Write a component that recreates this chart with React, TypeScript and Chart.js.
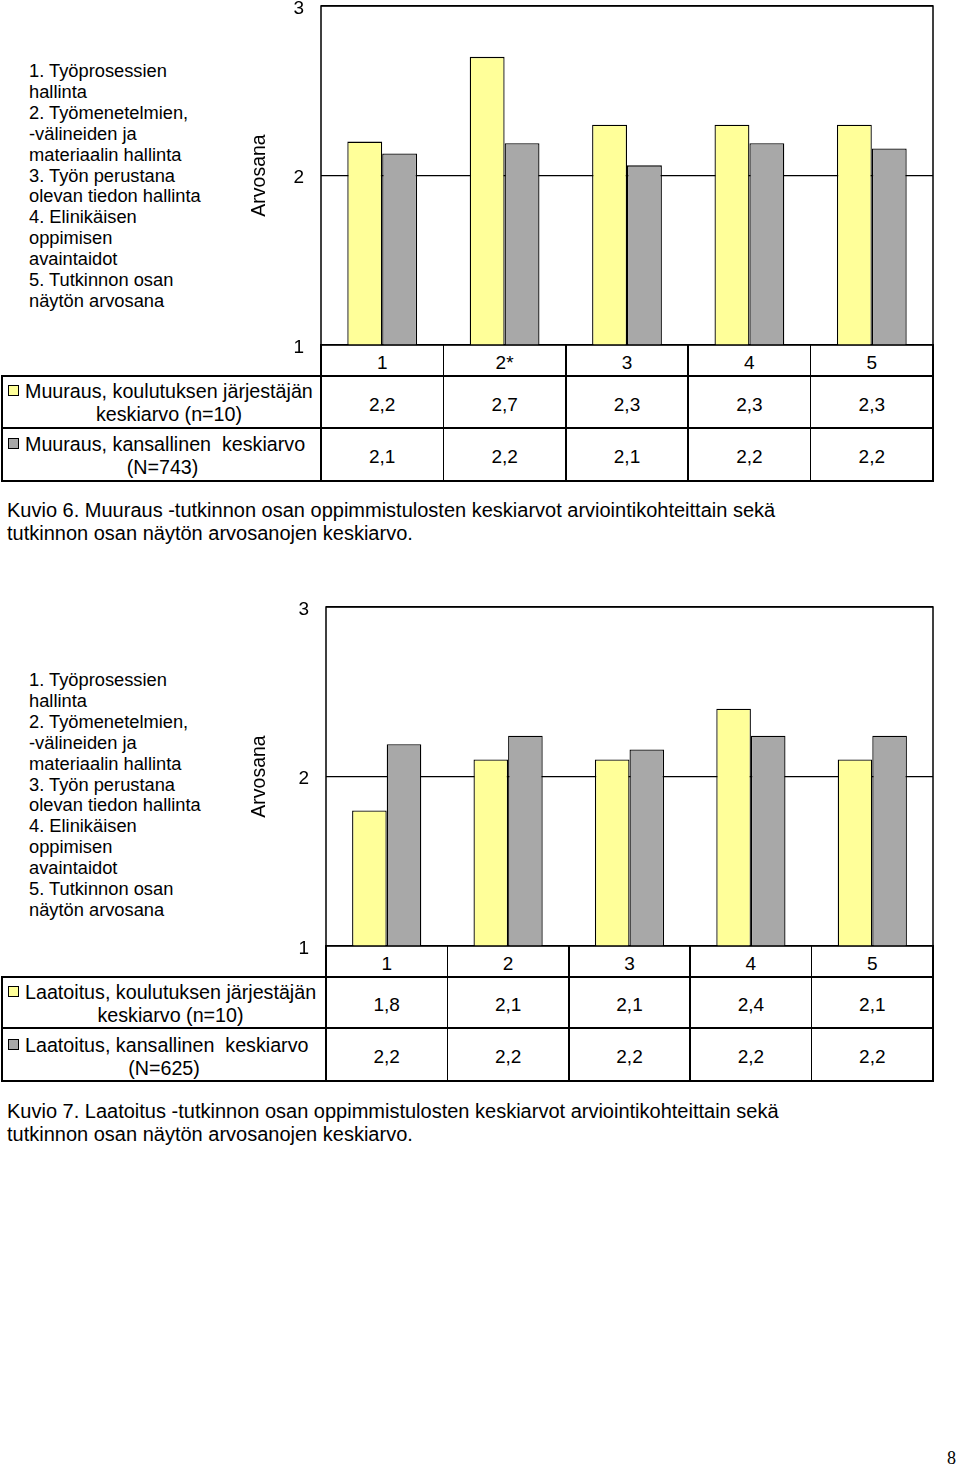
import React, { useEffect, useRef } from "react";
import { Chart, registerables } from "chart.js";

Chart.register(...registerables);

const FONT = '"Liberation Sans", Arial, Helvetica, sans-serif';
const YELLOW = "#FFFF99";
const GRAY = "#A8A8A8";

// ---- data ----
const criteriaLines = [
  "1. Työprosessien",
  "hallinta",
  "2. Työmenetelmien,",
  "-välineiden ja",
  "materiaalin hallinta",
  "3. Työn perustana",
  "olevan tiedon hallinta",
  "4. Elinikäisen",
  "oppimisen",
  "avaintaidot",
  "5. Tutkinnon osan",
  "näytön arvosana",
];
const yTickValues = [1, 2, 3];
const axisTitle = "Arvosana";

const categoriesMuuraus = ["1", "2*", "3", "4", "5"];
const providerMuuraus = [2.2, 2.7, 2.3, 2.3, 2.3];
const nationalMuuraus = [2.13, 2.19, 2.06, 2.19, 2.16];
const seriesMuuraus = [
  ["Muuraus, koulutuksen järjestäjän", "keskiarvo (n=10)"],
  ["Muuraus, kansallinen  keskiarvo", "(N=743)"],
];
const captionMuuraus = [
  "Kuvio 6. Muuraus -tutkinnon osan oppimmistulosten keskiarvot arviointikohteittain sekä",
  "tutkinnon osan näytön arvosanojen keskiarvo.",
];

const categoriesLaatoitus = ["1", "2", "3", "4", "5"];
const providerLaatoitus = [1.8, 2.1, 2.1, 2.4, 2.1];
const nationalLaatoitus = [2.19, 2.24, 2.16, 2.24, 2.24];
const seriesLaatoitus = [
  ["Laatoitus, koulutuksen järjestäjän", "keskiarvo (n=10)"],
  ["Laatoitus, kansallinen  keskiarvo", "(N=625)"],
];
const captionLaatoitus = [
  "Kuvio 7. Laatoitus -tutkinnon osan oppimmistulosten keskiarvot arviointikohteittain sekä",
  "tutkinnon osan näytön arvosanojen keskiarvo.",
];

const pageNumber = "8";

// ---- layout ----
type Layout = {
  plotLeft: number;
  plotRight: number;
  plotTop: number;
  plotBottom: number;
  headerBottom: number;
  row2Bottom: number;
  row3Bottom: number;
  listFirstCenter: number;
  legendRows: { l1: number; l2: number; cx: number }[];
  captionFirstCenter: number;
};

const layout1: Layout = {
  plotLeft: 321,
  plotRight: 933,
  plotTop: 6,
  plotBottom: 345,
  headerBottom: 376,
  row2Bottom: 428,
  row3Bottom: 481,
  listFirstCenter: 71.7,
  legendRows: [
    { l1: 391, l2: 414, cx: 169 },
    { l1: 444, l2: 467, cx: 162.5 },
  ],
  captionFirstCenter: 510,
};

const layout2: Layout = {
  plotLeft: 326,
  plotRight: 933,
  plotTop: 607,
  plotBottom: 946,
  headerBottom: 977,
  row2Bottom: 1028,
  row3Bottom: 1081,
  listFirstCenter: 680.7,
  legendRows: [
    { l1: 992, l2: 1015, cx: 170.5 },
    { l1: 1045, l2: 1068, cx: 164 },
  ],
  captionFirstCenter: 1111,
};

const fmt = (v: number) => v.toFixed(1).replace(".", ",");

const framePlugin = {
  id: "frame",
  afterDatasetsDraw(chart: any) {
    const { ctx, chartArea } = chart;
    ctx.save();
    ctx.strokeStyle = "#000";
    ctx.lineWidth = 1.5;
    ctx.strokeRect(
      chartArea.left,
      chartArea.top,
      chartArea.right - chartArea.left,
      chartArea.bottom - chartArea.top
    );
    ctx.restore();
  },
};

// must exceed the y-scale's own label padding (half label height + tick padding)
const PAD = 36;
const CANVAS_LEFT = 248;

function BarCanvas({
  lay,
  categories,
  provider,
  national,
  names,
}: {
  lay: Layout;
  categories: string[];
  provider: number[];
  national: number[];
  names: string[];
}) {
  const ref = useRef<HTMLCanvasElement>(null);
  const width = Math.round(lay.plotRight + 8 - CANVAS_LEFT);
  const height = Math.round(lay.plotBottom - lay.plotTop + 2 * PAD);

  useEffect(() => {
    if (!ref.current) return;
    const chart = new Chart(ref.current, {
      type: "bar",
      data: {
        labels: categories,
        datasets: [
          {
            label: names[0],
            data: provider,
            backgroundColor: YELLOW,
            borderColor: "#000",
            borderWidth: 1.3,
          },
          {
            label: names[1],
            data: national,
            backgroundColor: GRAY,
            borderColor: "#000",
            borderWidth: 1.3,
          },
        ],
      },
      options: {
        animation: false,
        responsive: false,
        maintainAspectRatio: false,
        layout: { padding: { left: 0, right: 8, top: PAD, bottom: PAD } },
        plugins: {
          legend: { display: false },
          tooltip: { enabled: false },
        },
        datasets: {
          bar: { categoryPercentage: 0.57, barPercentage: 1 },
        },
        scales: {
          x: { type: "category", display: false, offset: true },
          y: {
            min: 1,
            max: 3,
            afterBuildTicks: (scale: any) => {
              scale.ticks = yTickValues.map((v) => ({ value: v }));
            },
            afterFit: (scale: any) => {
              scale.width = lay.plotLeft - CANVAS_LEFT;
            },
            ticks: {
              padding: 17,
              labelOffset: 2.5,
              color: "#000",
              font: { family: FONT, size: 19 },
              callback: (v: any) => String(v),
            },
            grid: { color: "#000", lineWidth: 1.2, drawTicks: false },
            border: { display: false },
            title: {
              display: true,
              text: axisTitle,
              color: "#000",
              padding: 0,
              font: { family: FONT, size: 19.5, lineHeight: 1.2 },
            },
          },
        },
      } as any,
      plugins: [framePlugin],
    });
    return () => chart.destroy();
  }, []);

  return (
    <canvas
      ref={ref}
      width={width}
      height={height}
      style={{
        position: "absolute",
        left: CANVAS_LEFT,
        top: lay.plotTop - PAD,
        width,
        height,
      }}
    />
  );
}

const LINE = 1.5;

function HLine({ x1, x2, y }: { x1: number; x2: number; y: number }) {
  return (
    <div
      style={{
        position: "absolute",
        left: x1 - LINE / 2,
        top: y - LINE / 2,
        width: x2 - x1 + LINE,
        height: LINE,
        background: "#000",
      }}
    />
  );
}
function VLine({ x, y1, y2 }: { x: number; y1: number; y2: number }) {
  return (
    <div
      style={{
        position: "absolute",
        left: x - LINE / 2,
        top: y1 - LINE / 2,
        width: LINE,
        height: y2 - y1 + LINE,
        background: "#000",
      }}
    />
  );
}

function Txt({
  x,
  y,
  children,
  center,
  size = 19,
  lh = 23,
}: {
  x: number;
  y: number;
  children: React.ReactNode;
  center?: boolean;
  size?: number;
  lh?: number;
}) {
  return (
    <div
      style={{
        position: "absolute",
        left: x,
        top: y - lh / 2,
        lineHeight: lh + "px",
        fontSize: size,
        fontFamily: FONT,
        color: "#000",
        whiteSpace: "pre",
        transform: center ? "translateX(-50%)" : undefined,
      }}
    >
      {children}
    </div>
  );
}

function Figure({
  lay,
  categories,
  provider,
  national,
  series,
  caption,
}: {
  lay: Layout;
  categories: string[];
  provider: number[];
  national: number[];
  series: string[][];
  caption: string[];
}) {
  const n = categories.length;
  const colW = (lay.plotRight - lay.plotLeft) / n;
  const cols = Array.from({ length: n + 1 }, (_, i) => lay.plotLeft + colW * i);
  const headerY = (lay.plotBottom + lay.headerBottom) / 2 + 2;
  const row2Y = (lay.headerBottom + lay.row2Bottom) / 2 + 2;
  const row3Y = (lay.row2Bottom + lay.row3Bottom) / 2 + 2;
  const colors = [YELLOW, GRAY];

  return (
    <>
      {/* criteria list */}
      <div
        style={{
          position: "absolute",
          left: 29,
          top: lay.listFirstCenter - 10.4,
          fontFamily: FONT,
          fontSize: 18.3,
          lineHeight: "20.85px",
          color: "#000",
          whiteSpace: "pre",
        }}
      >
        {criteriaLines.map((l, i) => (
          <div key={i}>{l}</div>
        ))}
      </div>

      {/* table lines */}
      {cols.map((x, i) => (
        <VLine key={"v" + i} x={x} y1={lay.plotBottom} y2={lay.row3Bottom} />
      ))}
      <VLine x={2} y1={lay.headerBottom} y2={lay.row3Bottom} />
      <HLine x1={2} x2={lay.plotRight} y={lay.headerBottom} />
      <HLine x1={2} x2={lay.plotRight} y={lay.row2Bottom} />
      <HLine x1={2} x2={lay.plotRight} y={lay.row3Bottom} />

      {/* header row */}
      {categories.map((c, i) => (
        <Txt key={"h" + i} x={cols[i] + colW / 2} y={headerY} center>
          {c}
        </Txt>
      ))}
      {provider.map((v, i) => (
        <Txt key={"p" + i} x={cols[i] + colW / 2} y={row2Y} center>
          {fmt(v)}
        </Txt>
      ))}
      {national.map((v, i) => (
        <Txt key={"n" + i} x={cols[i] + colW / 2} y={row3Y} center>
          {fmt(v)}
        </Txt>
      ))}

      {/* legend cells */}
      {series.map((s, i) => {
        const r = lay.legendRows[i];
        return (
          <React.Fragment key={"s" + i}>
            <div
              style={{
                position: "absolute",
                left: 8,
                top: r.l1 - 6,
                width: 9,
                height: 9,
                border: "1px solid #000",
                background: colors[i],
              }}
            />
            <Txt x={25} y={r.l1} size={19.7}>
              {s[0]}
            </Txt>
            <Txt x={r.cx} y={r.l2} center size={19.7}>
              {s[1]}
            </Txt>
          </React.Fragment>
        );
      })}

      {/* caption */}
      {caption.map((c, i) => (
        <Txt key={"c" + i} x={7} y={lay.captionFirstCenter + i * 23} size={20}>
          {c}
        </Txt>
      ))}

      <BarCanvas
        lay={lay}
        categories={categories}
        provider={provider}
        national={national}
        names={[series[0].join(" "), series[1].join(" ")]}
      />
    </>
  );
}

export default function App() {
  return (
    <div
      style={{
        position: "absolute",
        left: 0,
        top: 0,
        width: 960,
        height: 1466,
        background: "#fff",
        overflow: "hidden",
      }}
    >
      <Figure
        lay={layout1}
        categories={categoriesMuuraus}
        provider={providerMuuraus}
        national={nationalMuuraus}
        series={seriesMuuraus}
        caption={captionMuuraus}
      />
      <Figure
        lay={layout2}
        categories={categoriesLaatoitus}
        provider={providerLaatoitus}
        national={nationalLaatoitus}
        series={seriesLaatoitus}
        caption={captionLaatoitus}
      />
      <div
        style={{
          position: "absolute",
          left: 947,
          top: 1447,
          fontFamily: '"Liberation Serif", "Times New Roman", serif',
          fontSize: 18,
          lineHeight: "22px",
          color: "#000",
        }}
      >
        {pageNumber}
      </div>
    </div>
  );
}
